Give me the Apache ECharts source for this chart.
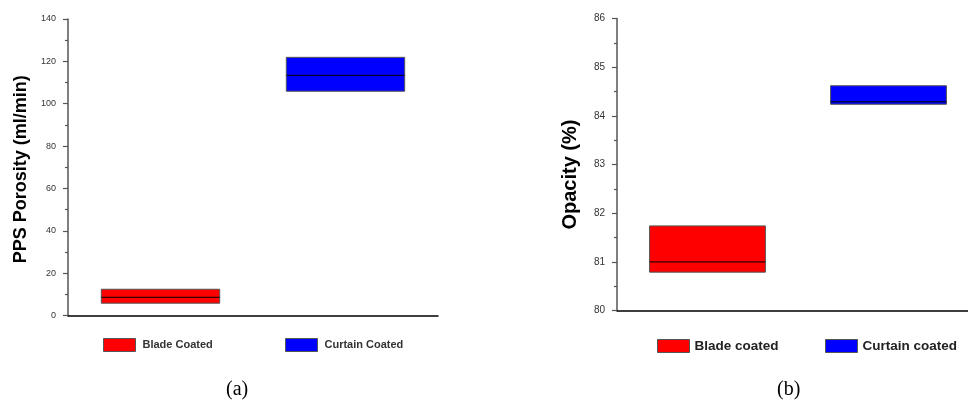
<!DOCTYPE html>
<html>
<head>
<meta charset="utf-8">
<script src="https://cdn.jsdelivr.net/npm/echarts@6/dist/echarts.min.js"></script>
<style>
  html, body { margin: 0; padding: 0; background: #fff; overflow: hidden; }
  /* a little wider than the window: the right x axis runs off the edge */
  #chart { width: 980px; height: 411px; }
</style>
</head>
<body>
<div id="chart"></div>
<script>
// (a) PPS porosity, ml/min : [category index, Q1, median, Q3]
const poroCats = ['Blade Coated', 'Curtain Coated']
const poroBlade = [0, 5.8, 8.6, 12.4]
const poroCurtain = [1, 105.9, 113.4, 121.9]

// (b) opacity, %
const opacCats = ['Blade coated', 'Curtain coated']
const opacBlade = [0, 80.79, 81.0, 81.74]
const opacCurtain = [1, 84.24, 84.29, 84.62]

const RED = '#FF0000'
const BLUE = '#0000FF'
const SANS = 'Liberation Sans, Arial, sans-serif'

// box from Q1 to Q3 with a median line, no whiskers
function renderBox(params, api) {
  const x = api.value(0)
  const lo = api.coord([x, api.value(1)])
  const md = api.coord([x, api.value(2)])
  const hi = api.coord([x, api.value(3)])
  const w = api.size([1, 0])[0] * 0.64
  return {
    type: 'group',
    children: [
      {
        type: 'rect',
        shape: { x: lo[0] - w / 2, y: hi[1], width: w, height: lo[1] - hi[1] },
        style: { fill: api.visual('color'), stroke: '#555', lineWidth: 1 },
      },
      {
        type: 'line',
        shape: { x1: lo[0] - w / 2, y1: md[1], x2: lo[0] + w / 2, y2: md[1] },
        style: { stroke: '#000', lineWidth: 1 },
      },
    ],
  }
}

function boxSeries(name, idx, color, row) {
  return {
    name,
    type: 'custom',
    xAxisIndex: idx,
    yAxisIndex: idx,
    renderItem: renderBox,
    encode: { x: 0, y: [1, 2, 3] },
    itemStyle: { color },
    data: [row],
  }
}

function xAxisFor(idx, cats) {
  return {
    type: 'category',
    gridIndex: idx,
    data: cats,
    axisLine: { lineStyle: { color: '#000', width: 1.5 } },
    axisTick: { alignWithLabel: true, length: 6, lineStyle: { color: '#333', width: 1.2 } },
    axisLabel: { show: false },
  }
}

function yAxisFor(idx, opts) {
  return Object.assign({
    type: 'value',
    gridIndex: idx,
    nameLocation: 'middle',
    nameRotate: 90,
    axisLine: { show: true, lineStyle: { color: '#555', width: 1.5 } },
    axisTick: { show: true, length: 5, lineStyle: { color: '#555', width: 1.2 } },
    minorTick: { show: true, splitNumber: 2, length: 3, lineStyle: { color: '#555', width: 1.2 } },
    splitLine: { show: false },
  }, opts)
}

function legendItem(name, left, top, text) {
  return {
    data: [name],
    left,
    top,
    padding: 0,
    icon: 'rect',
    itemWidth: 32,
    itemHeight: 13,
    itemStyle: { borderColor: '#555', borderWidth: 1 },
    textStyle: text,
  }
}

const legA = { fontFamily: SANS, fontSize: 11, fontWeight: 'bold', color: '#333', padding: [0, 0, 0, 2] }
const legB = { fontFamily: SANS, fontSize: 13.5, fontWeight: 'bold', color: '#222' }

const chart = echarts.init(document.getElementById('chart'), null, { renderer: 'canvas' })
chart.setOption({
  animation: false,
  backgroundColor: '#fff',
  grid: [
    { left: 68, top: 19, width: 370, height: 296.5 },
    { left: 617, top: 18.6, width: 362, height: 292 },
  ],
  xAxis: [xAxisFor(0, poroCats), xAxisFor(1, opacCats)],
  yAxis: [
    yAxisFor(0, {
      min: 0, max: 140, interval: 20,
      name: 'PPS Porosity (ml/min)',
      nameGap: 38,
      // right padding nudges the rotated title down a little
      nameTextStyle: { fontFamily: SANS, fontSize: 18, fontWeight: 'bold', color: '#000', padding: [0, 4, 0, 0] },
      axisLabel: { fontFamily: SANS, fontSize: 9, color: '#333', margin: 12 },
    }),
    yAxisFor(1, {
      min: 80, max: 86, interval: 1,
      name: 'Opacity (%)',
      nameGap: 37,
      nameTextStyle: { fontFamily: SANS, fontSize: 20, fontWeight: 'bold', color: '#000', padding: [0, 20, 0, 0] },
      axisLabel: { fontFamily: SANS, fontSize: 10, color: '#333', margin: 12 },
    }),
  ],
  legend: [
    legendItem(poroCats[0], 103, 338, legA),
    legendItem(poroCats[1], 285, 338, legA),
    legendItem(opacCats[0], 657, 339, legB),
    legendItem(opacCats[1], 825, 339, legB),
  ],
  graphic: [
    { type: 'text', left: 226, top: 380, style: { text: '(a)', font: '20px "Liberation Serif", "Times New Roman", serif', fill: '#000' } },
    { type: 'text', left: 777, top: 380, style: { text: '(b)', font: '20px "Liberation Serif", "Times New Roman", serif', fill: '#000' } },
  ],
  series: [
    boxSeries(poroCats[0], 0, RED, poroBlade),
    boxSeries(poroCats[1], 0, BLUE, poroCurtain),
    boxSeries(opacCats[0], 1, RED, opacBlade),
    boxSeries(opacCats[1], 1, BLUE, opacCurtain),
  ],
})
</script>
</body>
</html>
